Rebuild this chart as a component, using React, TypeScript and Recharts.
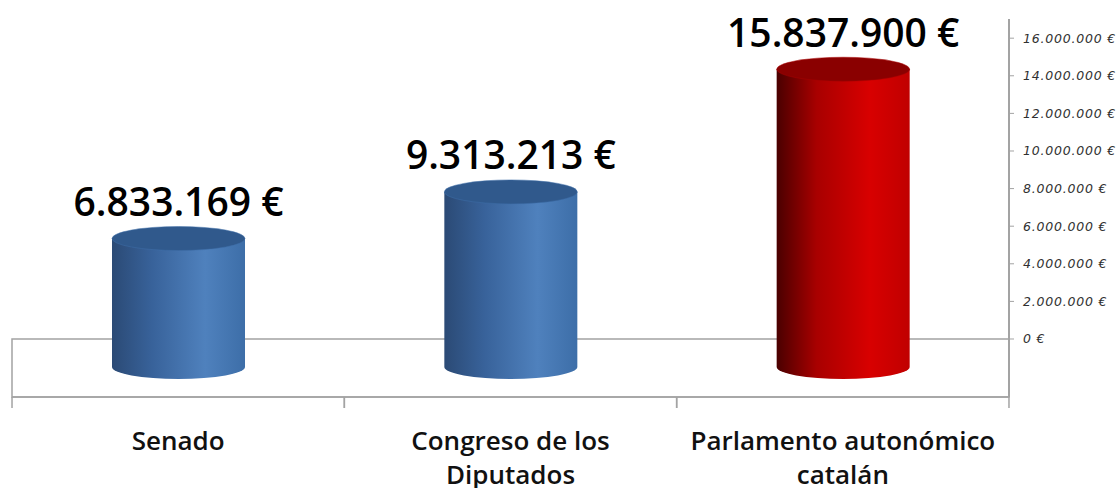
import React from "react";
import { BarChart, Bar, XAxis, YAxis, ReferenceArea, LabelList } from "recharts";

const categories = ["Senado", "Congreso de los Diputados", "Parlamento autonómico catalán"];
const categoryLines = [["Senado"], ["Congreso de los", "Diputados"], ["Parlamento autonómico", "catalán"]];
const values = [6833169, 9313213, 15837900];
const yTicks = [0, 2000000, 4000000, 6000000, 8000000, 10000000, 12000000, 14000000, 16000000];
const gradientIds = ["cylBlue", "cylBlue", "cylRed"];
const capColors = ["#30598c", "#30598c", "#8a0000"];
const edgeColors = ["#3f6fa8", "#3f6fa8", "#a80000"];

const data = categories.map((name, i) => ({ name, value: values[i], index: i }));
const AXIS = "#a3a3a3";
const FONT = "'Open Sans', sans-serif";
const DEPTH = 28;
const RY = 12;
const BAND = 332.3;

const fmt = (v: number) => String(v).replace(/\B(?=(\d{3})+(?!\d))/g, ".") + " €";

function Cylinder(props: any) {
  const { x, y, width, height, index } = props;
  const top = y + DEPTH;
  const bottom = y + height + DEPTH;
  const rx = width / 2;
  const cx = x + rx;
  return (
    <g>
      <path
        d={`M${x},${top} L${x},${bottom} A${rx},${RY} 0 0 0 ${x + width},${bottom} L${x + width},${top} Z`}
        fill={`url(#${gradientIds[index]})`}
      />
      <ellipse cx={cx} cy={top} rx={rx} ry={RY} fill={capColors[index]} stroke={edgeColors[index]} strokeWidth={0.5} />
    </g>
  );
}

function ValueLabel(props: any) {
  const { x, y, width, value } = props;
  return (
    <text
      x={x + width / 2}
      y={y - 10}
      textAnchor="middle"
      dominantBaseline="central"
      fontFamily={FONT}
      fontWeight={600}
      fontSize={39}
      fill="#000000"
    >
      {fmt(value)}
    </text>
  );
}

function CategoryTick(props: any) {
  const { x, y, index } = props;
  const lines = categoryLines[index] || [];
  return (
    <g>
      <line x1={x - BAND / 2} x2={x - BAND / 2} y1={y - 14} y2={y - 3} stroke={AXIS} strokeWidth={1.5} />
      <line x1={x + BAND / 2} x2={x + BAND / 2} y1={y - 14} y2={y - 3} stroke={AXIS} strokeWidth={1.5} />
      {lines.map((line: string, i: number) => (
        <text
          key={line}
          x={x}
          y={y + 29 + i * 34}
          textAnchor="middle"
          dominantBaseline="central"
          fontFamily={FONT}
          fontWeight={600}
          fontSize={26}
          fill="#111111"
        >
          {line}
        </text>
      ))}
    </g>
  );
}

export default function App() {
  return (
    <div style={{ position: "fixed", left: 0, top: 0, width: 1120, height: 488, background: "#ffffff", overflow: "hidden" }}>
      <BarChart
        width={1120}
        height={488}
        data={data}
        margin={{ top: 19, right: 0, bottom: 0, left: 12 }}
        barCategoryGap={0}
      >
        <defs>
          <linearGradient id="cylBlue" x1="0" x2="1" y1="0" y2="0">
            <stop offset="0%" stopColor="#2b4a75" />
            <stop offset="30%" stopColor="#38629a" />
            <stop offset="70%" stopColor="#4f81bd" />
            <stop offset="100%" stopColor="#3d6ea8" />
          </linearGradient>
          <linearGradient id="cylRed" x1="0" x2="1" y1="0" y2="0">
            <stop offset="0%" stopColor="#4a0000" />
            <stop offset="30%" stopColor="#a80000" />
            <stop offset="70%" stopColor="#d80000" />
            <stop offset="100%" stopColor="#c00000" />
          </linearGradient>
        </defs>
        <ReferenceArea
          yAxisId="v"
          y1={-3085000}
          y2={0}
          fill="#ffffff"
          fillOpacity={1}
          stroke={AXIS}
          strokeWidth={1.5}
          ifOverflow="visible"
        />
        <XAxis
          dataKey="name"
          interval={0}
          height={91}
          tickLine={false}
          axisLine={{ stroke: AXIS, strokeWidth: 1.5 }}
          tick={<CategoryTick />}
          tickMargin={8}
        />
        <YAxis
          yAxisId="v"
          orientation="right"
          width={111}
          domain={[-3085000, 17020000]}
          ticks={yTicks}
          interval={0}
          tickSize={5}
          tickMargin={9}
          axisLine={{ stroke: AXIS, strokeWidth: 2 }}
          tickLine={{ stroke: AXIS }}
          tick={{ fontFamily: "'DejaVu Sans', sans-serif", fontStyle: "italic", fontSize: 12.5, letterSpacing: 0.8, fill: "#303030", textAnchor: "start" }}
          tickFormatter={fmt}
        />
        <Bar yAxisId="v" dataKey="value" barSize={133} shape={<Cylinder />} isAnimationActive={false}>
          <LabelList dataKey="value" content={<ValueLabel />} />
        </Bar>
      </BarChart>
    </div>
  );
}
